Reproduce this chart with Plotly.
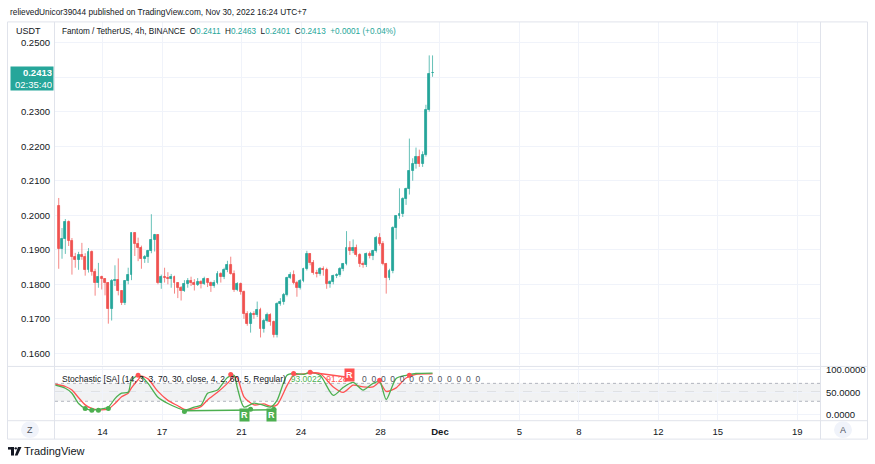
import plotly.graph_objects as go
import pandas as pd

W, H = 875, 464
def px(x): return x / W
def py(y): return 1 - y / H

FONT = "Liberation Sans"
UP = "#26a69a"
DN = "#ef5350"
UP_W = "rgba(38,166,154,0.7)"
DN_W = "rgba(239,83,80,0.7)"

# ---------------- data (FTM/USDT 4h) ----------------
t0 = pd.Timestamp("2022-11-11 19:00")
step = pd.Timedelta(hours=4)

opens = [0.2027, 0.1903, 0.1931, 0.1980, 0.1925, 0.1880, 0.1871, 0.1885, 0.1880, 0.1842,
         0.1895, 0.1837, 0.1805, 0.1820, 0.1815, 0.1803, 0.1730, 0.1810, 0.1812, 0.1780,
         0.1745, 0.1810, 0.1828, 0.1948, 0.1917, 0.1906, 0.1873, 0.1878, 0.1897, 0.1928,
         0.1943, 0.1805, 0.1822, 0.1818, 0.1815, 0.1822, 0.1803, 0.1790, 0.1780, 0.1800,
         0.1810, 0.1805, 0.1798, 0.1808, 0.1800, 0.1815, 0.1805, 0.1795, 0.1805, 0.1830,
         0.1820, 0.1842, 0.1856, 0.1831, 0.1784, 0.1800, 0.1778, 0.1715, 0.1686, 0.1715,
         0.1710, 0.1727, 0.1672, 0.1695, 0.1712, 0.1690, 0.1652, 0.1744, 0.1748, 0.1770,
         0.1819, 0.1828, 0.1805, 0.1790, 0.1810, 0.1845, 0.1888, 0.1862, 0.1833, 0.1830,
         0.1845, 0.1842, 0.1802, 0.1808, 0.1825, 0.1828, 0.1845, 0.1859, 0.1905, 0.1898,
         0.1905, 0.1885, 0.1859, 0.1855, 0.1888, 0.1882, 0.1897, 0.1934, 0.1917, 0.1859,
         0.1819, 0.1839, 0.1963, 0.1998, 0.2003, 0.2047, 0.2075, 0.2127, 0.2150, 0.2168,
         0.2150, 0.2176, 0.2306, 0.2411]
highs = [0.2050, 0.1963, 0.1989, 0.1985, 0.1934, 0.1891, 0.1894, 0.1920, 0.1890, 0.1905,
         0.1898, 0.1845, 0.1862, 0.1825, 0.1818, 0.1806, 0.1815, 0.1855, 0.1875, 0.1782,
         0.1812, 0.1848, 0.1950, 0.1950, 0.1935, 0.1912, 0.1885, 0.1900, 0.2003, 0.1946,
         0.1945, 0.1828, 0.1848, 0.1835, 0.1830, 0.1825, 0.1806, 0.1795, 0.1812, 0.1818,
         0.1822, 0.1815, 0.1818, 0.1812, 0.1822, 0.1818, 0.1808, 0.1812, 0.1838, 0.1835,
         0.1848, 0.1868, 0.1880, 0.1840, 0.1806, 0.1805, 0.1782, 0.1722, 0.1720, 0.1722,
         0.1750, 0.1732, 0.1700, 0.1718, 0.1716, 0.1695, 0.1748, 0.1760, 0.1775, 0.1822,
         0.1835, 0.1840, 0.1810, 0.1815, 0.1848, 0.1897, 0.1890, 0.1870, 0.1842, 0.1850,
         0.1852, 0.1848, 0.1812, 0.1828, 0.1832, 0.1850, 0.1862, 0.1954, 0.1925, 0.1930,
         0.1915, 0.1890, 0.1866, 0.1892, 0.1895, 0.1900, 0.1940, 0.1948, 0.1925, 0.1862,
         0.1845, 0.1968, 0.2000, 0.2078, 0.2052, 0.2080, 0.2222, 0.2165, 0.2196, 0.2190,
         0.2185, 0.2320, 0.2463, 0.2463]
lows = [0.1845, 0.1874, 0.1888, 0.1911, 0.1828, 0.1848, 0.1842, 0.1871, 0.1825, 0.1834,
        0.1825, 0.1767, 0.1790, 0.1785, 0.1768, 0.1686, 0.1695, 0.1795, 0.1768, 0.1740,
        0.1740, 0.1800, 0.1812, 0.1882, 0.1867, 0.1845, 0.1862, 0.1862, 0.1890, 0.1895,
        0.1800, 0.1787, 0.1805, 0.1800, 0.1790, 0.1773, 0.1760, 0.1753, 0.1778, 0.1790,
        0.1795, 0.1782, 0.1795, 0.1788, 0.1798, 0.1792, 0.1778, 0.1790, 0.1800, 0.1805,
        0.1815, 0.1835, 0.1828, 0.1778, 0.1780, 0.1770, 0.1700, 0.1680, 0.1660, 0.1700,
        0.1705, 0.1646, 0.1660, 0.1690, 0.1680, 0.1646, 0.1646, 0.1738, 0.1741, 0.1765,
        0.1815, 0.1800, 0.1764, 0.1785, 0.1806, 0.1840, 0.1855, 0.1828, 0.1820, 0.1825,
        0.1825, 0.1787, 0.1790, 0.1800, 0.1818, 0.1822, 0.1838, 0.1855, 0.1885, 0.1890,
        0.1880, 0.1850, 0.1848, 0.1850, 0.1875, 0.1870, 0.1892, 0.1912, 0.1855, 0.1773,
        0.1812, 0.1832, 0.1930, 0.1990, 0.1995, 0.2030, 0.2060, 0.2100, 0.2135, 0.2140,
        0.2140, 0.2170, 0.2300, 0.2401]
closes = [0.1903, 0.1931, 0.1980, 0.1925, 0.1880, 0.1871, 0.1885, 0.1880, 0.1842, 0.1895,
          0.1837, 0.1805, 0.1820, 0.1815, 0.1803, 0.1730, 0.1810, 0.1812, 0.1780, 0.1745,
          0.1810, 0.1828, 0.1948, 0.1917, 0.1906, 0.1873, 0.1878, 0.1897, 0.1928, 0.1943,
          0.1805, 0.1822, 0.1818, 0.1815, 0.1822, 0.1803, 0.1790, 0.1780, 0.1800, 0.1810,
          0.1805, 0.1798, 0.1808, 0.1800, 0.1815, 0.1805, 0.1795, 0.1805, 0.1830, 0.1820,
          0.1842, 0.1856, 0.1831, 0.1784, 0.1800, 0.1778, 0.1715, 0.1686, 0.1715, 0.1710,
          0.1727, 0.1672, 0.1695, 0.1712, 0.1690, 0.1652, 0.1744, 0.1748, 0.1770, 0.1819,
          0.1828, 0.1805, 0.1790, 0.1810, 0.1845, 0.1888, 0.1862, 0.1833, 0.1830, 0.1845,
          0.1842, 0.1802, 0.1808, 0.1825, 0.1828, 0.1845, 0.1859, 0.1905, 0.1898, 0.1905,
          0.1885, 0.1859, 0.1855, 0.1888, 0.1882, 0.1897, 0.1934, 0.1917, 0.1859, 0.1819,
          0.1839, 0.1963, 0.1998, 0.2003, 0.2047, 0.2075, 0.2127, 0.2150, 0.2168, 0.2150,
          0.2176, 0.2306, 0.2410, 0.2413]

# stochastic (%K green, %D red) sampled at candle indices
stoch_idx = [-1, 2, 4, 6, 8, 10, 12, 15, 17, 19, 21, 22, 24, 25, 27, 30, 33, 36, 38, 41,
             43, 45, 48, 51, 53, 54, 56, 59, 62, 64, 66, 69, 71, 74, 76, 79, 83, 86, 89, 92,
             95, 97, 99, 102, 105, 108, 113]
stoch_k = [66, 59, 48, 25, 14, 10, 12, 17, 36, 48, 50, 77, 88, 85, 70, 39, 25, 15, 10, 17,
           21, 48, 55, 83, 88, 60, 17, 26, 21, 17, 32, 88, 92, 90, 95, 88, 43, 61, 72, 55,
           70, 74, 34, 81, 88, 92, 93]
stoch_d = [68, 63, 55, 38, 22, 14, 11, 13, 25, 40, 48, 60, 78, 86, 80, 52, 32, 20, 12, 13,
           18, 33, 50, 70, 85, 82, 40, 22, 24, 19, 22, 65, 88, 91, 93, 92, 62, 50, 66, 62,
           62, 72, 52, 60, 82, 90, 91]
low_dot_idx = [8, 10, 12, 15, 38, 58, 65]
low_dot_val = [14, 10, 10, 14, 7, 12, 12]
high_dot_idx = [24, 52, 71, 76, 97, 106]
high_dot_val = [88, 90, 92, 95, 77, 88]
bull_div_idx = [38, 65]
bull_div_val = [9, 11]
bear_div_idx = [76, 88]
bear_div_val = [95, 83]

date_ticks = ["2022-11-14", "2022-11-17", "2022-11-21", "2022-11-24", "2022-11-28",
              "2022-12-01", "2022-12-05", "2022-12-08", "2022-12-12", "2022-12-15", "2022-12-19"]
date_labels = ["14", "17", "21", "24", "28", "<b>Dec</b>", "5", "8", "12", "15", "19"]
price_ticks = [0.16, 0.17, 0.18, 0.19, 0.20, 0.21, 0.22, 0.23, 0.24, 0.25]
# 0.2400 is hidden behind the last-price label
price_labels = ["0.1600", "0.1700", "0.1800", "0.1900", "0.2000", "0.2100", "0.2200",
                "0.2300", "", "0.2500"]

# ---------------- build ----------------
def tm(i):
    return t0 + i * step

times = [tm(i) for i in range(len(closes))]

fig = go.Figure()

# wicks
for up, col in ((True, UP_W), (False, DN_W)):
    xs, ys = [], []
    for t, o, h, l, c in zip(times, opens, highs, lows, closes):
        if (c >= o) == up:
            xs += [t, t, None]
            ys += [l, h, None]
    fig.add_trace(go.Scatter(x=xs, y=ys, mode="lines", line=dict(color=col, width=1),
                             hoverinfo="skip", showlegend=False, xaxis="x", yaxis="y"))

# bodies
body_base = [min(o, c) for o, c in zip(opens, closes)]
body_h = [abs(c - o) for o, c in zip(opens, closes)]
body_col = [UP if c >= o else DN for o, c in zip(opens, closes)]
fig.add_trace(go.Bar(x=times, y=body_h, base=body_base, width=4 * 3600 * 1000 * 0.58,
                     marker=dict(color=body_col, line=dict(color=body_col, width=0.8)),
                     showlegend=False, xaxis="x", yaxis="y", hoverinfo="skip"))

# stochastic
sx = [tm(i) for i in stoch_idx]
fig.add_trace(go.Scatter(x=sx, y=stoch_d, mode="lines", line=dict(color="#ff5252", width=1.3,
                         shape="spline", smoothing=0.7), xaxis="x2", yaxis="y2", showlegend=False))
fig.add_trace(go.Scatter(x=sx, y=stoch_k, mode="lines", line=dict(color="#4caf50", width=1.3,
                         shape="spline", smoothing=0.7), xaxis="x2", yaxis="y2", showlegend=False))
fig.add_trace(go.Scatter(x=[tm(i) for i in bull_div_idx], y=bull_div_val, mode="lines",
                         line=dict(color="#4caf50", width=1.5), xaxis="x2", yaxis="y2", showlegend=False))
fig.add_trace(go.Scatter(x=[tm(i) for i in bear_div_idx], y=bear_div_val, mode="lines",
                         line=dict(color="#ff5252", width=1.5), xaxis="x2", yaxis="y2", showlegend=False))
fig.add_trace(go.Scatter(x=[tm(i) for i in low_dot_idx], y=low_dot_val, mode="markers",
                         marker=dict(color="#4caf50", size=5), xaxis="x2", yaxis="y2", showlegend=False))
fig.add_trace(go.Scatter(x=[tm(i) for i in high_dot_idx], y=high_dot_val, mode="markers",
                         marker=dict(color="#ff5252", size=5), xaxis="x2", yaxis="y2", showlegend=False))

x_range = ["2022-11-11 14:30", "2022-12-20 03:30"]
grid = "#f0f3fa"
tickfont = dict(family=FONT, size=9.5, color="#131722")

fig.update_layout(
    width=W, height=H, autosize=False,
    margin=dict(l=0, r=0, t=0, b=0),
    paper_bgcolor="white", plot_bgcolor="white",
    barmode="overlay", bargap=0,
    showlegend=False,
    xaxis=dict(domain=[px(55), px(820)], anchor="y", type="date", range=x_range,
               tickvals=date_ticks, showticklabels=False, showgrid=True, gridcolor=grid,
               zeroline=False, showline=False, rangeslider=dict(visible=False), fixedrange=True),
    yaxis=dict(domain=[py(365), py(20)], anchor="x", range=[0.1565, 0.2560], side="left",
               tickvals=price_ticks, ticktext=price_labels, tickfont=tickfont, showgrid=True,
               gridcolor=grid, zeroline=False, ticks="", ticklabelstandoff=4),
    xaxis2=dict(domain=[px(55), px(820)], anchor="y2", type="date", range=x_range, matches="x",
                tickvals=date_ticks, ticktext=date_labels, tickfont=tickfont, showgrid=True,
                gridcolor=grid, zeroline=False, ticks="", ticklabelstandoff=4),
    yaxis2=dict(domain=[py(420), py(366)], anchor="x2", range=[-12.2, 107.8], side="right",
                tickvals=[0, 50, 100], tickformat=".4f", tickfont=tickfont, showgrid=True,
                gridcolor=grid, zeroline=False, ticks="", ticklabelstandoff=5),
)

shapes = []
# shaded band and reference lines in stochastic pane
shapes.append(dict(type="rect", xref="x2 domain", yref="y2", x0=0, x1=1, y0=30, y1=70,
                   fillcolor="rgba(120,123,134,0.10)", line=dict(width=0), layer="below"))
for v, dash, col in ((70, "dot", "#b2b5be"), (30, "dot", "#b2b5be"), (50, "dash", "#9598a1")):
    shapes.append(dict(type="line", xref="x2 domain", yref="y2", x0=0, x1=1, y0=v, y1=v,
                       line=dict(color=col, width=1, dash=dash), layer="below"))
# frame lines
frame = "#e0e3eb"
shapes.append(dict(type="rect", xref="paper", yref="paper", x0=px(7.5), x1=px(867.5),
                   y0=py(439), y1=py(20), line=dict(color=frame, width=1)))
for x in (54.5, 820.5):
    shapes.append(dict(type="line", xref="paper", yref="paper", x0=px(x), x1=px(x),
                       y0=py(439), y1=py(20), line=dict(color=frame, width=1)))
for y in (366, 420.5):
    shapes.append(dict(type="line", xref="paper", yref="paper", x0=px(7.5), x1=px(867.5),
                       y0=py(y), y1=py(y), line=dict(color=frame, width=1)))
# Z / A buttons
for cx in (30, 843):
    shapes.append(dict(type="circle", xref="paper", yref="paper", x0=px(cx - 9), x1=px(cx + 9),
                       y0=py(439 - 0.5 - 17.5), y1=py(439 - 0.5 - 0.5),
                       fillcolor="#f0f3fa", line=dict(width=0)))
# TradingView logo mark
logo = "#131722"
shapes.append(dict(type="rect", xref="paper", yref="paper", x0=px(8), x1=px(14),
                   y0=py(449.5), y1=py(447), fillcolor=logo, line=dict(width=0)))
shapes.append(dict(type="rect", xref="paper", yref="paper", x0=px(11), x1=px(14),
                   y0=py(455.5), y1=py(447), fillcolor=logo, line=dict(width=0)))
shapes.append(dict(type="circle", xref="paper", yref="paper", x0=px(14.6), x1=px(17),
                   y0=py(449.5), y1=py(447.1), fillcolor=logo, line=dict(width=0)))
shapes.append(dict(type="path", xref="paper", yref="paper",
                   path=f"M {px(18)} {py(447)} L {px(21.5)} {py(447)} L {px(17.5)} {py(455.5)} L {px(14.8)} {py(455.5)} Z",
                   fillcolor=logo, line=dict(width=0)))
fig.update_layout(shapes=shapes)

ann = []
def add_text(x, y, text, size=9.5, color="#131722", xanchor="left", **kw):
    ann.append(dict(xref="paper", yref="paper", x=px(x), y=py(y), text=text, showarrow=False,
                    xanchor=xanchor, yanchor="middle", font=dict(family=FONT, size=size, color=color), **kw))

add_text(8, 10, "relievedUnicor39044 published on TradingView.com, Nov 30, 2022 16:24 UTC+7", size=8.3)
add_text(14, 29, "USDT", size=9)
g = lambda s: f"<span style='color:{UP}'>{s}</span>"
add_text(60, 30, "Fantom / TetherUS, 4h, BINANCE  O" + g("0.2411") + "  H" + g("0.2463") +
         "  L" + g("0.2401") + "  C" + g("0.2413") + "  " + g("+0.0001 (+0.04%)"), size=8.2)
add_text(60, 379, "Stochastic [SA] (14, 3, 3, 70, 30, close, 4, 2, 60, 5, Regular)  "
         "<span style='color:#4caf50'>93.0022</span>  <span style='color:#ff5252'>91.28</span>",
         size=8.5)
add_text(360, 379, "  ".join(["0"] * 13), size=8.5, color="#50535e")
add_text(30, 430, "Z", size=9, color="#50535e", xanchor="center")
add_text(843, 430, "A", size=9, color="#50535e", xanchor="center")
add_text(22, 451, "TradingView", size=11, color="#131722")
# last price label
ann.append(dict(xref="paper", yref="paper", x=px(32), y=py(77), showarrow=False,
                text="<b>0.2413</b><br>02:35:40", align="right", xanchor="center", yanchor="middle",
                font=dict(family=FONT, size=9.5, color="white"), bgcolor=UP, width=40, height=21,
                borderpad=1))
# R labels on divergence
for i, v, col in ((56.3, -1, "#4caf50"), (64.4, -1, "#4caf50"), (88, 88, "#ff5252")):
    ann.append(dict(xref="x2", yref="y2", x=tm(i), y=v, text="<b>R</b>", showarrow=False,
                    font=dict(family=FONT, size=9, color="white"), bgcolor=col,
                    borderpad=1, xanchor="center", yanchor="middle"))
fig.update_layout(annotations=ann)

fig.write_html("out.html")
